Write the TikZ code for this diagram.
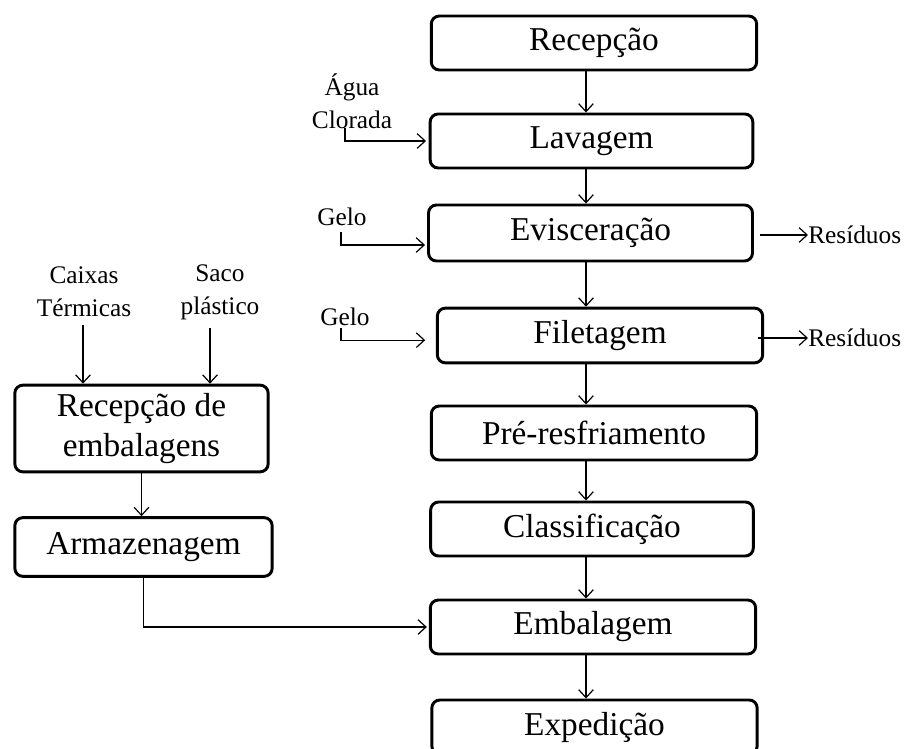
\documentclass[tikz,border=0pt]{standalone}
\usepackage{fontspec}
\setmainfont{Liberation Serif}
\usetikzlibrary{arrows.meta,positioning}
\tikzset{
  stepbox/.style={draw,line width=2.2pt,rounded corners=6pt,inner sep=0pt,
              minimum width=244pt,minimum height=40.5pt,align=center,
              font=\fontsize{25}{30}\selectfont},
  lbl/.style={inner sep=0pt,align=center,font=\fontsize{19}{25}\selectfont},
  flow/.style={-{Straight Barb[length=6pt,width=11pt]},line width=.9pt},
}

\begin{document}
\begin{tikzpicture}[x=.75pt,y=-.75pt]
  \useasboundingbox (0,0) rectangle (907,749);
  \clip (0,0) rectangle (907,749);
  % main line
  \node[stepbox] (rec) at (594,43) {Recepção};
  \node[stepbox,minimum width=242pt] (lav) at (591.5,141) {Lavagem};
  \node[stepbox,minimum width=243pt,minimum height=42pt] (evi) at (590.5,233) {Evisceração};
  \node[stepbox,minimum width=244pt,minimum height=41pt] (fil) at (600,335.5) {Filetagem};
  \node[stepbox] (pre) at (594,433) {Pré-resfriamento};
  \node[stepbox,minimum width=242pt] (cla) at (592,529) {Classificação};
  \node[stepbox] (emb) at (593,627) {Embalagem};
  \node[stepbox] (exp) at (594.5,727) {Expedição};
  \coordinate (spine) at (586,0);
  \foreach \a/\b in {rec/lav,lav/evi,evi/fil,fil/pre,pre/cla,cla/emb,emb/exp}
    \draw[flow] (\a.south -| spine) -- (\b.north -| spine);
  % inputs
  \node[lbl] (agu) at (352,101) {Água\\Clorada};
  \node[lbl] (gel1) at (342,217) {Gelo};
  \node[lbl] (gel2) at (345,317) {Gelo};
  \coordinate (a1) at (345,128);
  \coordinate (g1) at (341,232);
  \coordinate (g2) at (341,328);
  \draw[flow] (a1) |- ([xshift=-2pt]lav.west);
  \draw[flow] (g1) |- ([xshift=-1.5pt,yshift=-9pt]evi.west);
  \draw[flow] (g2) |- ([xshift=-8pt,yshift=-3.5pt]fil.west);
  % outputs
  \node[lbl,anchor=west] (res1) at (808,235) {Resíduos};
  \node[lbl,anchor=west] (res2) at (808,338) {Resíduos};
  \draw[flow] (evi.east |- res1) ++(6,0) -- (res1);
  \draw[flow] (fil.east |- res2) ++(-6,0) -- (res2);
  % packaging
  \node[lbl] (cai) at (84,292) {Caixas\\Térmicas};
  \node[lbl] (sac) at (220,292) {Saco\\plástico};
  \node[stepbox,minimum width=190pt,minimum height=65pt] (remb) at (141.5,428.5) {Recepção de\\embalagens};
  \node[stepbox,minimum width=193pt,minimum height=44pt] (arm) at (143.5,547) {Armazenagem};
  \draw[flow] (cai.south) ++(-1,8) coordinate (c1) -- (c1 |- remb.north);
  \draw[flow] (sac.south) ++(-10,8) coordinate (s1) -- (s1 |- remb.north);
  \draw[flow] (remb.south) -- (remb.south |- arm.north);
  \draw[flow] (arm.south) |- ([xshift=-1.5pt]emb.west);
\end{tikzpicture}
\end{document}
